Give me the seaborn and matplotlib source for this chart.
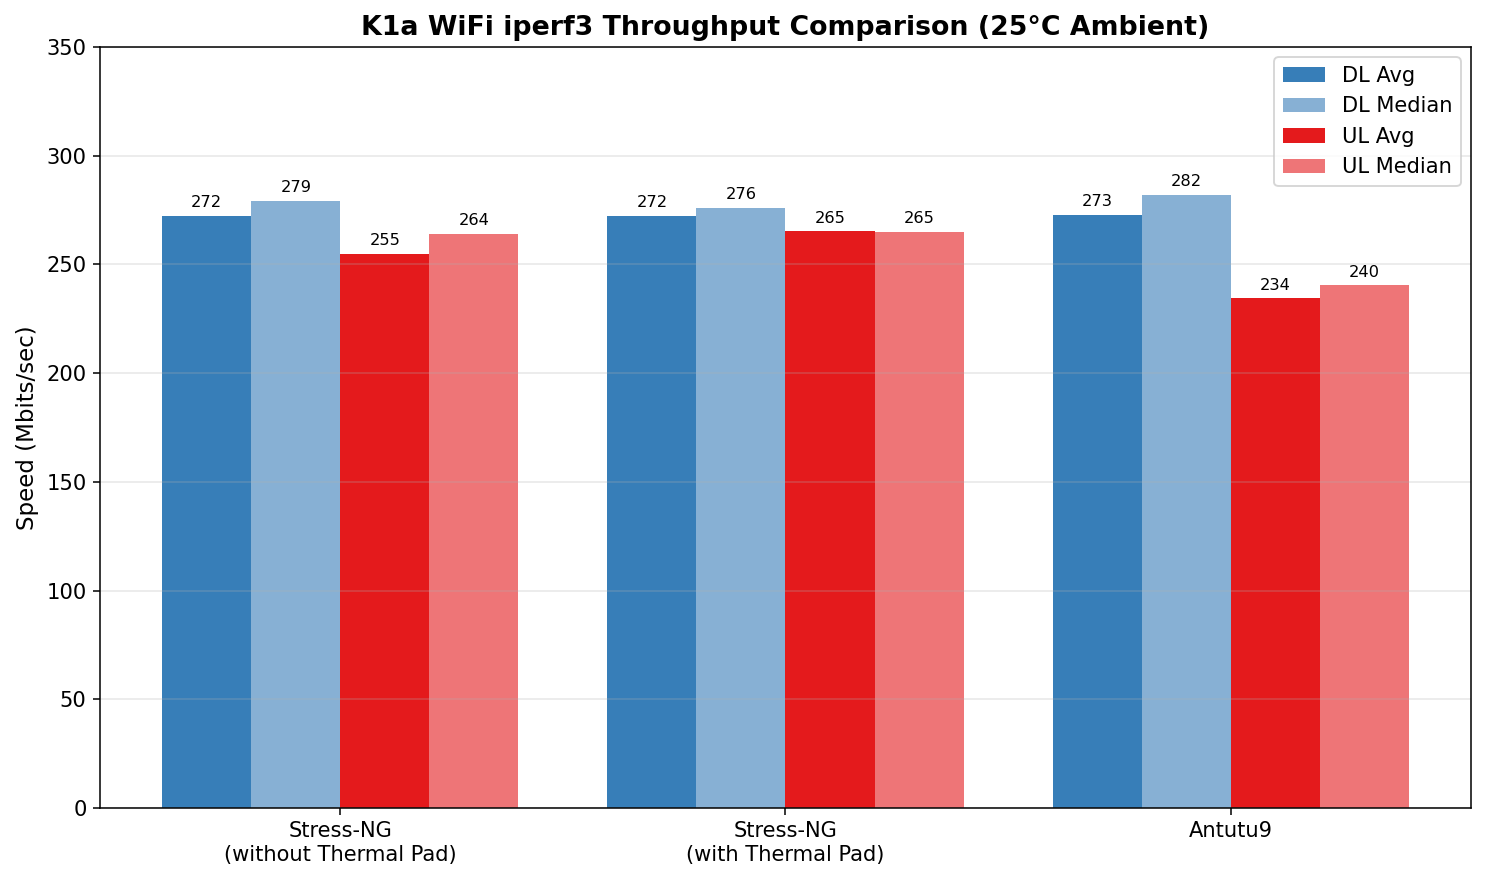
import pandas as pd
import matplotlib.pyplot as plt
import seaborn as sns

# Throughput values (Mbits/sec)
scenarios = ['Stress-NG\n(without Thermal Pad)', 'Stress-NG\n(with Thermal Pad)', 'Antutu9']
metrics = ['DL Avg', 'DL Median', 'UL Avg', 'UL Median']
dl_avg = [272.4, 272.4, 272.8]
dl_median = [279.2, 276.0, 282.0]
ul_avg = [254.8, 265.2, 234.4]
ul_median = [264.0, 264.9, 240.4]
colors = ['#377eb8', '#87b0d4', '#e41a1c', '#ee7577']

rows = []
for name, vals in zip(metrics, [dl_avg, dl_median, ul_avg, ul_median]):
    for sc, v in zip(scenarios, vals):
        rows.append({'scenario': sc, 'metric': name, 'speed': v})
df = pd.DataFrame(rows)

dpi = 137.5
fig, ax = plt.subplots(figsize=(1485 / dpi, 881 / dpi), dpi=dpi)
fig.subplots_adjust(left=0.0673, right=0.9906, top=0.9467, bottom=0.0829)

sns.barplot(data=df, x='scenario', y='speed', hue='metric', order=scenarios,
            hue_order=metrics, palette=colors, saturation=1, errorbar=None,
            width=0.8, ax=ax)

for cont in ax.containers:
    ax.bar_label(cont, fmt='%.0f', padding=3, fontsize=8.5)

ax.set_title('K1a WiFi iperf3 Throughput Comparison (25°C Ambient)',
             fontsize=14, fontweight='bold')
ax.set_xlabel('')
ax.set_ylabel('Speed (Mbits/sec)', fontsize=12)
ax.set_ylim(0, 350)
ax.set_xlim(-0.54, 2.54)
ax.tick_params(labelsize=11)
ax.grid(axis='y', alpha=0.3)
ax.legend(loc='upper right', fontsize=11)

plt.savefig('out.png', dpi=dpi)
plt.close()
